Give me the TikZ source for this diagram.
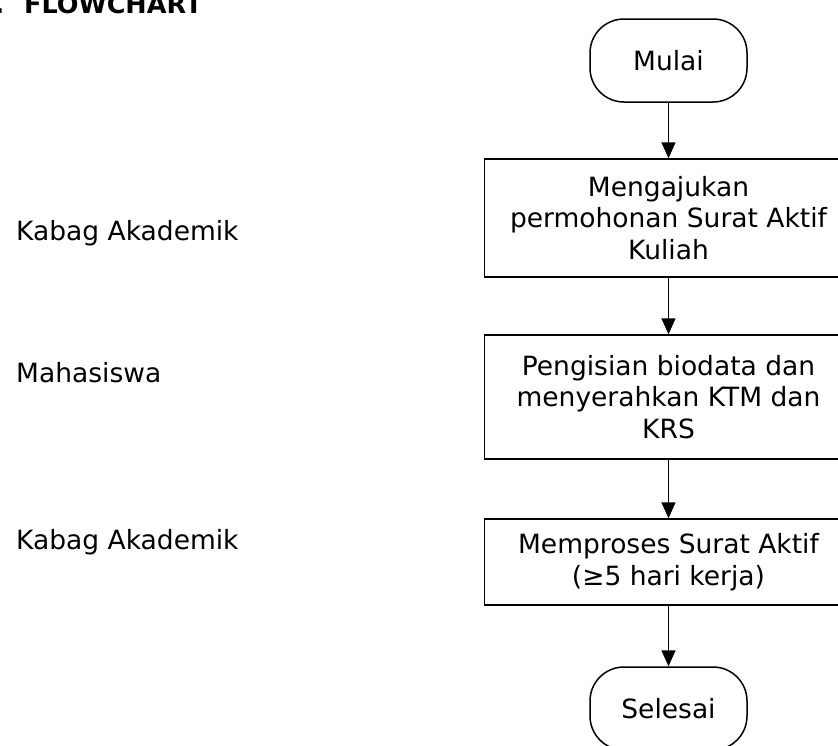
\documentclass[tikz,border=0pt]{standalone}
\usepackage{fontspec}
\setmainfont{DejaVu Sans}
\usetikzlibrary{arrows.meta}

\begin{document}
\begin{tikzpicture}[x=1pt,y=-1pt,
    font=\fontsize{26.5}{31.5}\selectfont,
    term/.style={draw,line width=1.5pt,rounded corners=34pt,minimum width=157pt,minimum height=83pt,inner sep=0pt},
    proc/.style={draw,line width=1.5pt,align=center,minimum width=368pt,inner sep=0pt},
    lbl/.style={anchor=base west,inner sep=0pt},
    flow/.style={line width=1.5pt,-{Triangle[length=16pt,width=14pt]}}]
    \useasboundingbox (0,0) rectangle (838,745);

    % title
    \node[lbl,font=\bfseries\fontsize{25.5}{31.5}\selectfont] (num) at (-5.5,13) {.};
    \node[lbl,font=\bfseries\fontsize{25.5}{31.5}\selectfont] (title) at (24,13) {FLOWCHART};

    % who does what
    \node[lbl] (who1) at (16,240) {Kabag Akademik};
    \node[lbl] (who2) at (16,382) {Mahasiswa};
    \node[lbl] (who3) at (16,549) {Kabag Akademik};

    % flow
    \node[term] (mulai) at (668.5,60.5) {Mulai};
    \node[proc,minimum height=118pt] (aju) at (668.5,218) {Mengajukan\\permohonan Surat Aktif\\Kuliah};
    \node[proc,minimum height=124pt] (isi) at (668.5,397) {Pengisian biodata dan\\menyerahkan KTM dan\\KRS};
    \node[proc,minimum height=86pt] (proses) at (668.5,562) {Memproses Surat Aktif\\(≥5 hari kerja)};
    \node[term] (selesai) at (668.5,708.5) {Selesai};

    \draw[flow] (mulai) -- (aju);
    \draw[flow] (aju) -- (isi);
    \draw[flow] (isi) -- (proses);
    \draw[flow] (proses) -- (selesai);
\end{tikzpicture}
\end{document}
